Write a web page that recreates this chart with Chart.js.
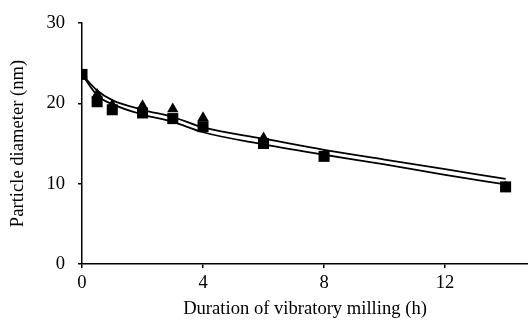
<!DOCTYPE html>
<html><head><meta charset="utf-8">
<script src="https://cdn.jsdelivr.net/npm/chart.js@4/dist/chart.umd.min.js"></script>
<style>html,body{margin:0;padding:0;background:#fff}#wrap{width:528px;height:322px}</style>
</head><body><div id="wrap"><canvas id="c" width="528" height="322"></canvas></div>
<script>
const hours = [0, 0.5, 1, 2, 3, 4, 6, 8, 14];
const squareDiam = [23.6, 20.2, 19.2, 18.8, 18.1, 17.1, 15.0, 13.4, 9.6];
const triangleDiam = [23.6, 21.1, 19.8, 19.7, 19.3, 18.2, 15.7, 13.5, 9.6];
const fitHours = [0, 0.5, 1, 2, 3, 4, 6, 8, 10, 12, 14];
const upperFit = [23.6, 21.6, 20.4, 19.2, 18.3, 17.0, 15.6, 14.2, 13.0, 11.8, 10.6];
const lowerFit = [23.6, 21.0, 19.9, 18.6, 17.7, 16.4, 14.9, 13.6, 12.4, 11.1, 9.9];
const xTicks = [0, 4, 8, 12];
const yTicks = [0, 10, 20, 30];

const pts = (xs, ys) => xs.map((x, i) => ({x: x, y: ys[i]}));
const font = {family: '"Liberation Serif", "Times New Roman", serif', size: 18.6};

new Chart(document.getElementById('c'), {
  type: 'scatter',
  data: {datasets: [
    {data: pts(hours, squareDiam), pointStyle: 'rect', pointRadius: 7.8, backgroundColor: '#000', borderColor: '#000', borderWidth: 0, order: 0},
    {data: pts(hours, triangleDiam), pointStyle: 'triangle', pointRadius: 6.5, backgroundColor: '#000', borderColor: '#000', borderWidth: 0, order: 1},
    {data: pts(fitHours, upperFit), showLine: true, pointRadius: 0, borderColor: '#000', borderWidth: 1.8, cubicInterpolationMode: 'monotone', order: 2},
    {data: pts(fitHours, lowerFit), showLine: true, pointRadius: 0, borderColor: '#000', borderWidth: 1.8, cubicInterpolationMode: 'monotone', order: 3}
  ]},
  options: {
    responsive: false, animation: false,
    layout: {autoPadding: false, padding: {top: 23, right: 0, left: 0, bottom: 0}},
    plugins: {legend: {display: false}, tooltip: {enabled: false}},
    scales: {
      x: {
        type: 'linear', min: 0, max: 14.74,
        afterBuildTicks: a => { a.ticks = xTicks.map(v => ({value: v})); },
        afterFit: a => { a.height = 58; a.paddingLeft = 0; a.paddingRight = 0; },
        border: {display: true, color: '#000', width: 1.5},
        grid: {display: true, drawOnChartArea: false, drawTicks: true, tickLength: 4, color: '#000', lineWidth: 1.5},
        ticks: {color: '#000', font: font, padding: 4, maxRotation: 0},
        title: {display: true, text: 'Duration of vibratory milling (h)', color: '#000', font: font, padding: {top: 0, bottom: 2}}
      },
      y: {
        type: 'linear', min: 0, max: 30,
        afterBuildTicks: a => { a.ticks = yTicks.map(v => ({value: v})); },
        afterFit: a => { a.width = 82; a.paddingTop = 0; a.paddingBottom = 0; },
        border: {display: true, color: '#000', width: 1.5},
        grid: {display: true, drawOnChartArea: false, drawTicks: true, tickLength: 4, color: '#000', lineWidth: 1.5},
        ticks: {color: '#000', font: font, padding: 13},
        title: {display: true, text: 'Particle diameter (nm)', color: '#000', font: font, padding: {top: 7, bottom: 0}}
      }
    }
  }
});
</script></body></html>
